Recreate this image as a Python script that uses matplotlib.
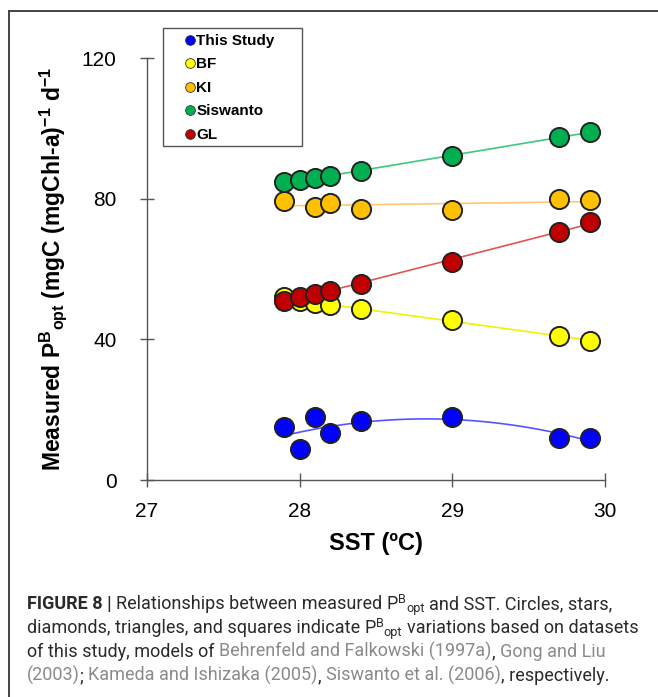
import numpy as np
import matplotlib
matplotlib.use("Agg")
import matplotlib.pyplot as plt
from matplotlib.lines import Line2D
from matplotlib.patches import Rectangle

plt.rcParams['font.family'] = ['Liberation Sans', 'DejaVu Sans']
plt.rcParams['mathtext.default'] = 'regular'

# SST (deg C) for each station
sst = [27.9, 28.0, 28.1, 28.2, 28.4, 29.0, 29.7, 29.9]
sst_ki = [27.9, 28.1, 28.2, 28.4, 29.0, 29.7, 29.9]

this_study = [15.2, 8.7, 18.0, 13.3, 16.8, 18.0, 11.9, 11.9]
bf = [51.9, 50.8, 50.3, 49.9, 48.7, 45.4, 41.0, 39.6]
ki = [79.3, 77.7, 78.8, 77.1, 76.9, 80.0, 79.5]
siswanto = [84.7, 85.2, 85.8, 86.4, 87.8, 92.1, 97.5, 99.0]
gl = [50.8, 52.0, 52.9, 53.7, 55.6, 61.9, 70.6, 73.4]

names = ['This Study', 'BF', 'KI', 'Siswanto', 'GL']
marker_colors = ['#0000ff', '#ffff00', '#ffc000', '#00b050', '#c00000']
line_colors = ['#5555ff', '#f2f200', '#ffc870', '#3cc87a', '#e25555']

W, H = 658, 697
fig = plt.figure(figsize=(W/100, H/100), dpi=100)
ax = fig.add_axes([147/W, 1-480/H, 458/W, 422/H])

series = [(sst, this_study, 2), (sst, bf, 1), (sst_ki, ki, 1), (sst, siswanto, 1), (sst, gl, 1)]
for (x, y, deg), mc, lc in zip(series, marker_colors, line_colors):
    coef = np.polyfit(x, y, deg)
    xs = np.linspace(min(x), max(x), 100)
    ax.plot(xs, np.polyval(coef, xs), color=lc, lw=1.2, zorder=2)
    ax.scatter(x, y, s=190, color=mc, edgecolor='#222222', linewidth=1.4, zorder=3)

ax.set_xlim(27, 30)
ax.set_ylim(0, 120)
ax.set_xticks([27, 28, 29, 30])
ax.set_yticks([0, 40, 80, 120])
for s in ['top', 'right']:
    ax.spines[s].set_visible(False)
for s in ['left', 'bottom']:
    ax.spines[s].set_color('#555555')
    ax.spines[s].set_linewidth(1.0)
ax.tick_params(axis='both', direction='inout', length=10, width=1.0, color='#555555', labelsize=15)
ax.tick_params(axis='y', pad=17)
ax.tick_params(axis='x', pad=11)

ax.set_xlabel('SST (ºC)', fontsize=17, fontweight='bold', labelpad=8)
ax.set_ylabel(r'Measured P$^{B}{}_{opt}$ (mgC (mgChl-a)$^{-1}$ d$^{-1}$',
              fontsize=16.5, fontweight='bold', labelpad=9)

# legend: box drawn by hand, entries placed inside
fig.add_artist(Rectangle((163/W, 1-146/H), 139/W, 118/H, transform=fig.transFigure,
                         facecolor='white', edgecolor='#555555', lw=1.0, zorder=4))
handles = [Line2D([], [], marker='o', ls='none', markerfacecolor=c, markeredgecolor='#333333',
                  markeredgewidth=0.6, markersize=7) for c in marker_colors]
leg = fig.legend(handles, names, loc='upper left', bbox_to_anchor=(185/W, 1-34/H),
                 bbox_transform=fig.transFigure, frameon=False,
                 prop={'weight': 'bold', 'size': 11}, handlelength=0.6, handletextpad=0.15,
                 labelspacing=0.62, borderpad=0, borderaxespad=0)
leg.set_zorder(5)

# outer frame lines (top and left)
fig.add_artist(Line2D([9/W, 1], [1-11/H, 1-11/H], color='#444444', lw=1.4, transform=fig.transFigure))
fig.add_artist(Line2D([9/W, 9/W], [0, 1-11/H], color='#444444', lw=1.4, transform=fig.transFigure))

# caption
dark = '#2a2a2a'
grey = '#8a8a8a'
cap_size = 13.0
cap_font = ['Roboto', 'DejaVu Sans']
space_px = 0.25 * cap_size * 100 / 72
renderer = fig.canvas.get_renderer()


def pb(color=dark):
    return [('P', color, 'normal', 0, 1.0), ('B', color, 'normal', -6, 0.7), ('opt', color, 'normal', 3, 0.7)]


def rich_line(y_px, parts):
    x = 27
    for s, color, weight, dy, scale in parts:
        if s.startswith(' '):
            x += space_px
        t = fig.text(x/W, 1-(y_px+dy)/H, s.strip(' '), color=color, fontweight=weight,
                     fontsize=cap_size*scale, family=cap_font, va='baseline', ha='left')
        bb = t.get_window_extent(renderer=renderer)
        x = bb.x1
        if s.endswith(' '):
            x += space_px


rich_line(609, [('FIGURE 8 |', dark, 'bold', 0, 1.0),
                (' Relationships between measured ', dark, 'normal', 0, 1.0)] + pb() +
               [(' and SST. Circles, stars,', dark, 'normal', 0, 1.0)])
rich_line(633, [('diamonds, triangles, and squares indicate ', dark, 'normal', 0, 1.0)] + pb() +
               [(' variations based on datasets', dark, 'normal', 0, 1.0)])
rich_line(657, [('of this study, models of ', dark, 'normal', 0, 1.0),
                ('Behrenfeld and Falkowski (1997a)', grey, 'normal', 0, 1.0),
                (', ', dark, 'normal', 0, 1.0),
                ('Gong and Liu', grey, 'normal', 0, 1.0)])
rich_line(681, [('(2003)', grey, 'normal', 0, 1.0),
                ('; ', dark, 'normal', 0, 1.0),
                ('Kameda and Ishizaka (2005)', grey, 'normal', 0, 1.0),
                (', ', dark, 'normal', 0, 1.0),
                ('Siswanto et al. (2006)', grey, 'normal', 0, 1.0),
                (', respectively.', dark, 'normal', 0, 1.0)])

fig.savefig('out.png', dpi=100)
